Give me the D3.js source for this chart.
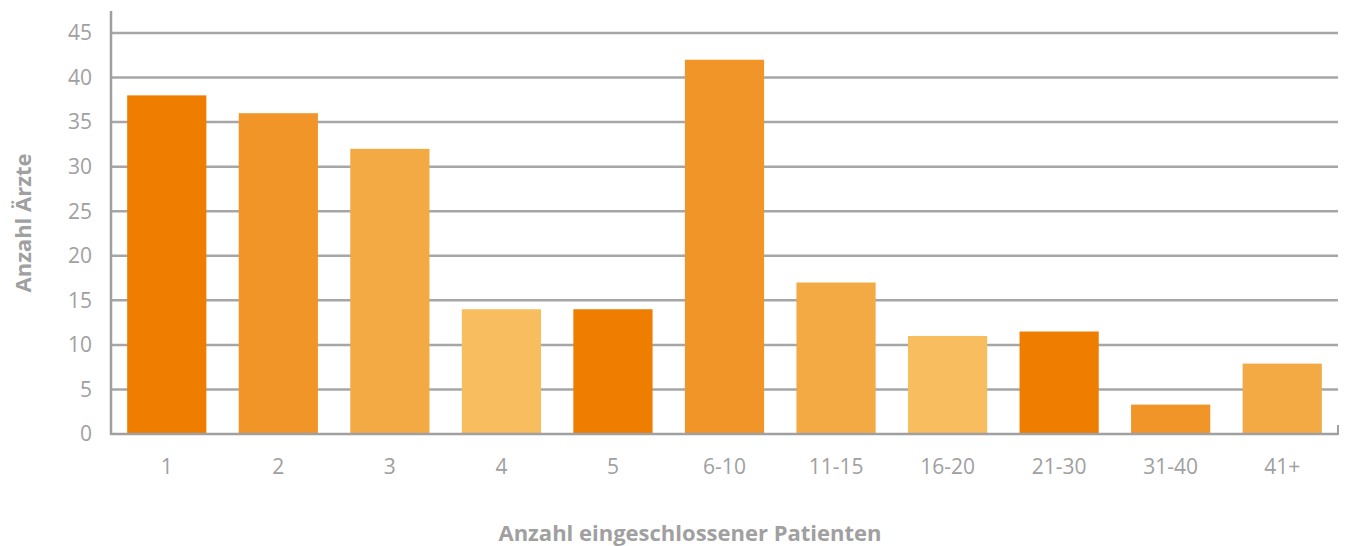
<!DOCTYPE html>
<html>
<head>
<meta charset="utf-8">
<script src="https://cdn.jsdelivr.net/npm/d3@7"></script>
<style>
  body { margin: 0; background: #fff; }
  svg text { font-family: "Open Sans", sans-serif; fill: #a0a0a0; }
</style>
</head>
<body>
<svg id="chart" width="1345" height="546"></svg>
<script>
// data
const categories = ["1", "2", "3", "4", "5", "6-10", "11-15", "16-20", "21-30", "31-40", "41+"];
const values = [38, 36, 32, 14, 14, 42, 17, 11, 11.5, 3.3, 7.9];
const yTicks = [0, 5, 10, 15, 20, 25, 30, 35, 40, 45];
const palette = ["#ef7d00", "#f29528", "#f4aa44", "#f8bd5e"];

const svg = d3.select("#chart");
const margin = { left: 111, right: 7, top: 33, bottom: 112 };
const width = 1345, height = 546;

const x = d3.scaleBand()
  .domain(categories)
  .range([margin.left, width - margin.right])
  .paddingInner(0.29)
  .paddingOuter(0.145);

const y = d3.scaleLinear()
  .domain([0, 45])
  .range([height - margin.bottom, margin.top]);

// gridlines
svg.append("g")
  .selectAll("line")
  .data(yTicks.filter(d => d > 0))
  .join("line")
  .attr("x1", margin.left)
  .attr("x2", width - margin.right)
  .attr("y1", d => y(d))
  .attr("y2", d => y(d))
  .attr("stroke", "#a6a6a6")
  .attr("stroke-width", 2.5);

// bars
svg.append("g")
  .selectAll("rect")
  .data(values)
  .join("rect")
  .attr("x", (d, i) => x(categories[i]))
  .attr("width", x.bandwidth())
  .attr("y", d => y(d))
  .attr("height", d => y(0) - y(d))
  .attr("fill", (d, i) => palette[i % 4]);

// y axis line
svg.append("line")
  .attr("x1", margin.left).attr("x2", margin.left)
  .attr("y1", 11).attr("y2", y(0) + 1)
  .attr("stroke", "#a0a0a0").attr("stroke-width", 2.5);

// x axis line + end tick
svg.append("line")
  .attr("x1", margin.left).attr("x2", width - margin.right)
  .attr("y1", y(0)).attr("y2", y(0))
  .attr("stroke", "#a0a0a0").attr("stroke-width", 2.5);
svg.append("line")
  .attr("x1", width - margin.right).attr("x2", width - margin.right)
  .attr("y1", y(0) - 9).attr("y2", y(0) + 1)
  .attr("stroke", "#a0a0a0").attr("stroke-width", 2);

// y tick labels
svg.append("g")
  .selectAll("text")
  .data(yTicks)
  .join("text")
  .attr("x", 92)
  .attr("y", d => y(d))
  .attr("dy", "0.35em")
  .attr("text-anchor", "end")
  .attr("font-size", 21)
  .text(d => d);

// x tick labels
svg.append("g")
  .selectAll("text")
  .data(categories)
  .join("text")
  .attr("x", d => x(d) + x.bandwidth() / 2)
  .attr("y", 467)
  .attr("dy", "0.35em")
  .attr("text-anchor", "middle")
  .attr("font-size", 21)
  .text(d => d);

// axis titles
svg.append("text")
  .attr("x", 690)
  .attr("y", 533)
  .attr("dy", "0.35em")
  .attr("text-anchor", "middle")
  .attr("font-size", 22)
  .attr("font-weight", "bold")
  .text("Anzahl eingeschlossener Patienten");

svg.append("text")
  .attr("transform", "translate(23,223) rotate(-90)")
  .attr("dy", "0.35em")
  .attr("text-anchor", "middle")
  .attr("font-size", 22)
  .attr("font-weight", "bold")
  .text("Anzahl Ärzte");
</script>
</body>
</html>
